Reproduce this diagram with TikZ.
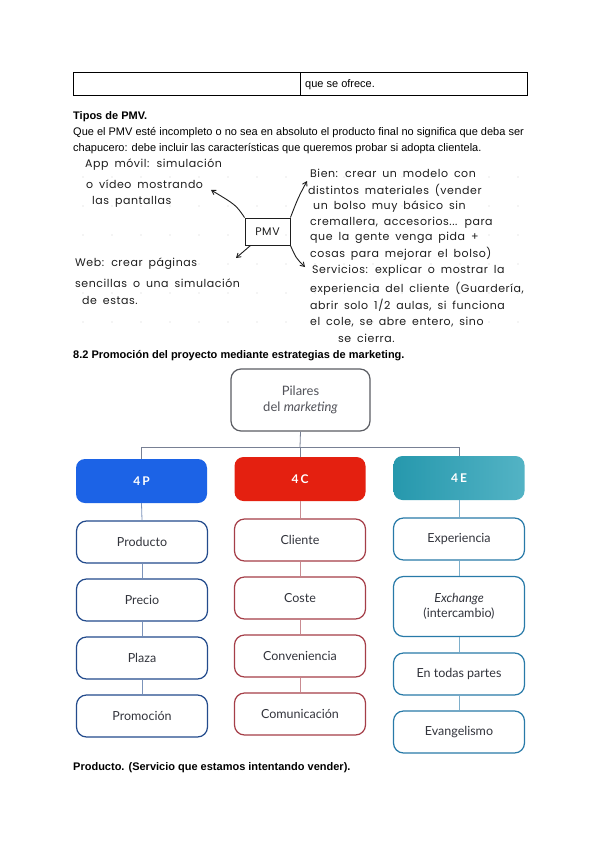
\documentclass[tikz,border=0pt]{standalone}
\usepackage{fontspec}
\setmainfont{Liberation Sans}
\newfontfamily\handfont[LetterSpace=5,WordSpace=1.7]{Poppins}
\newfontfamily\boxfont{Lato}
\usetikzlibrary{arrows.meta,positioning,calc}
\definecolor{pblue}{RGB}{28,99,230}
\definecolor{cred}{RGB}{228,32,16}
\definecolor{eteal}{RGB}{40,160,182}
\definecolor{pborder}{RGB}{35,75,140}
\definecolor{cborder}{RGB}{165,62,72}
\definecolor{eborder}{RGB}{40,122,168}
\definecolor{treeline}{RGB}{120,128,148}
\definecolor{boxtext}{RGB}{50,52,60}
\definecolor{ink}{RGB}{30,30,30}

\begin{document}
\begin{tikzpicture}[x=1pt,y=-1pt,
body/.style={anchor=west,inner sep=0pt,font=\fontsize{11}{13}\selectfont},
hand/.style={anchor=west,inner sep=0pt,text=ink,font=\handfont\fontsize{11}{13}\selectfont},
head/.style={rounded corners=9pt,minimum width=131pt,minimum height=44pt,text=white,font=\boxfont\bfseries\fontsize{12}{14}\selectfont},
item/.style={draw,line width=1.2pt,rounded corners=10pt,fill=white,minimum width=131pt,minimum height=42pt,text=boxtext,align=center,font=\boxfont\fontsize{12.5}{15}\selectfont},
link/.style={treeline,line width=0.8pt},
sketch/.style={ink,line width=0.9pt,-{Straight Barb[length=4pt,width=5pt]}}]
\useasboundingbox[fill=white] (0,0) rectangle (600,848);
\draw[line width=1pt] (73,73) rectangle (527,96);
\draw[line width=1pt] (300,73) -- (300,96);
\node[body] (ofrece) at (305,85) {que se ofrece.};
\node[body,font=\bfseries\fontsize{11}{13}\selectfont] (tipos) at (73,117) {Tipos de PMV.};
\node[body] (linea1) at (73,133) {Que el PMV esté incompleto o no sea en absoluto el producto final no significa que deba ser};
\node[body] (linea2) at (73,149) {chapucero: debe incluir las características que queremos probar si adopta clientela.};
\foreach \row in {177,206,235,264,293,322}
  \foreach \col in {83,112,141,170,199,228,257,286,315,344,373,402,431,460,489,518}
    \fill[gray!35] (\col,\row) circle (0.7);
\node[hand] (app1) at (85,165) {App móvil: simulación};
\node[hand] (app2) at (86,184) {o vídeo mostrando};
\node[hand] (app3) at (92,202) {las pantallas};
\node[hand] (web1) at (75,264) {Web: crear páginas};
\node[hand] (web2) at (75,283) {sencillas o una simulación};
\node[hand] (web3) at (82,300) {de estas.};
\node[hand] (bien1) at (310,173) {Bien: crear un modelo con};
\node[hand] (bien2) at (308,190) {distintos materiales (vender};
\node[hand] (bien3) at (313,207) {un bolso muy básico sin};
\node[hand] (bien4) at (310,223) {cremallera, accesorios... para};
\node[hand] (bien5) at (310,238) {que la gente venga pida +};
\node[hand] (bien6) at (310,254) {cosas para mejorar el bolso)};
\node[hand] (serv1) at (312,271) {Servicios: explicar o mostrar la};
\node[hand] (serv2) at (310,289) {experiencia del cliente (Guardería,};
\node[hand] (serv3) at (310,305) {abrir solo 1/2 aulas, si funciona};
\node[hand] (serv4) at (310,322) {el cole, se abre entero, sino};
\node[hand] (serv5) at (338,338) {se cierra.};
\node[draw,ink,line width=0.9pt,minimum width=45pt,minimum height=27pt,font=\handfont\fontsize{11}{12}\selectfont] (pmv) at (267.5,231.5) {PMV};
\coordinate (tipapp) at (211,190);
\coordinate (tipweb) at (236,258);
\coordinate (tipbien) at (307,181);
\coordinate (tipserv) at (305,267);
\draw[sketch] (pmv.north west) .. controls (236,205) .. (tipapp);
\draw[sketch] ([xshift=6pt]pmv.south west) -- (tipweb);
\draw[sketch] (pmv.north east) .. controls (298,198) .. (tipbien);
\draw[sketch] (pmv.south east) .. controls (296,258) .. (tipserv);
\node[body,font=\bfseries\fontsize{11}{13}\selectfont] (promo) at (73,356) {8.2 Promoción del proyecto mediante estrategias de marketing.};
\node[item,draw=boxtext!80,minimum width=139pt,minimum height=62pt,text=boxtext!85,font=\boxfont\fontsize{13}{16}\selectfont] (pilares) at (300.5,400) {Pilares\\del \textit{marketing}};
\coordinate (bus) at (300,447);
\node[head,fill=pblue] (h4p) at (141.5,481) {4\,P};
\node[head,fill=cred] (h4c) at (300,479) {4\,C};
\node[head,left color=eteal!95!black,right color=eteal!80!white,shading angle=90] (h4e) at (459,478) {4\,E};
\draw[link] (pilares.south) -- (bus);
\draw[link] (bus) -| (h4p.north);
\draw[link] (bus) -| (h4e.north);
\draw[link] (bus) -- (h4c.north);
\node[item,draw=pborder] (prod) at (142,542) {Producto};
\node[item,draw=pborder] (prec) at (142,600) {Precio};
\node[item,draw=pborder] (plaza) at (142,658) {Plaza};
\node[item,draw=pborder] (prom) at (142,716) {Promoción};
\node[item,draw=cborder] (clien) at (300,540) {Cliente};
\node[item,draw=cborder] (coste) at (300,598) {Coste};
\node[item,draw=cborder] (conv) at (300,656) {Conveniencia};
\node[item,draw=cborder] (comu) at (300,714) {Comunicación};
\node[item,draw=eborder] (expe) at (459,539) {Experiencia};
\node[item,draw=eborder,minimum height=60pt] (exch) at (459,606.5) {\textit{Exchange}\\(intercambio)};
\node[item,draw=eborder] (todas) at (459,674) {En todas partes};
\node[item,draw=eborder] (evan) at (459,732) {Evangelismo};
\draw[link,pborder!60] (h4p.south) -- (prod.north);
\draw[link,pborder!60] (prod.south) -- (prec.north);
\draw[link,pborder!60] (prec.south) -- (plaza.north);
\draw[link,pborder!60] (plaza.south) -- (prom.north);
\draw[link,cborder!60] (h4c.south) -- (clien.north);
\draw[link,cborder!60] (clien.south) -- (coste.north);
\draw[link,cborder!60] (coste.south) -- (conv.north);
\draw[link,cborder!60] (conv.south) -- (comu.north);
\draw[link,eborder!60] (h4e.south) -- (expe.north);
\draw[link,eborder!60] (expe.south) -- (exch.north);
\draw[link,eborder!60] (exch.south) -- (todas.north);
\draw[link,eborder!60] (todas.south) -- (evan.north);
\node[body,font=\bfseries\fontsize{11}{13}\selectfont] (servicio) at (73,768) {Producto. (Servicio que estamos intentando vender).};
\end{tikzpicture}
\end{document}
